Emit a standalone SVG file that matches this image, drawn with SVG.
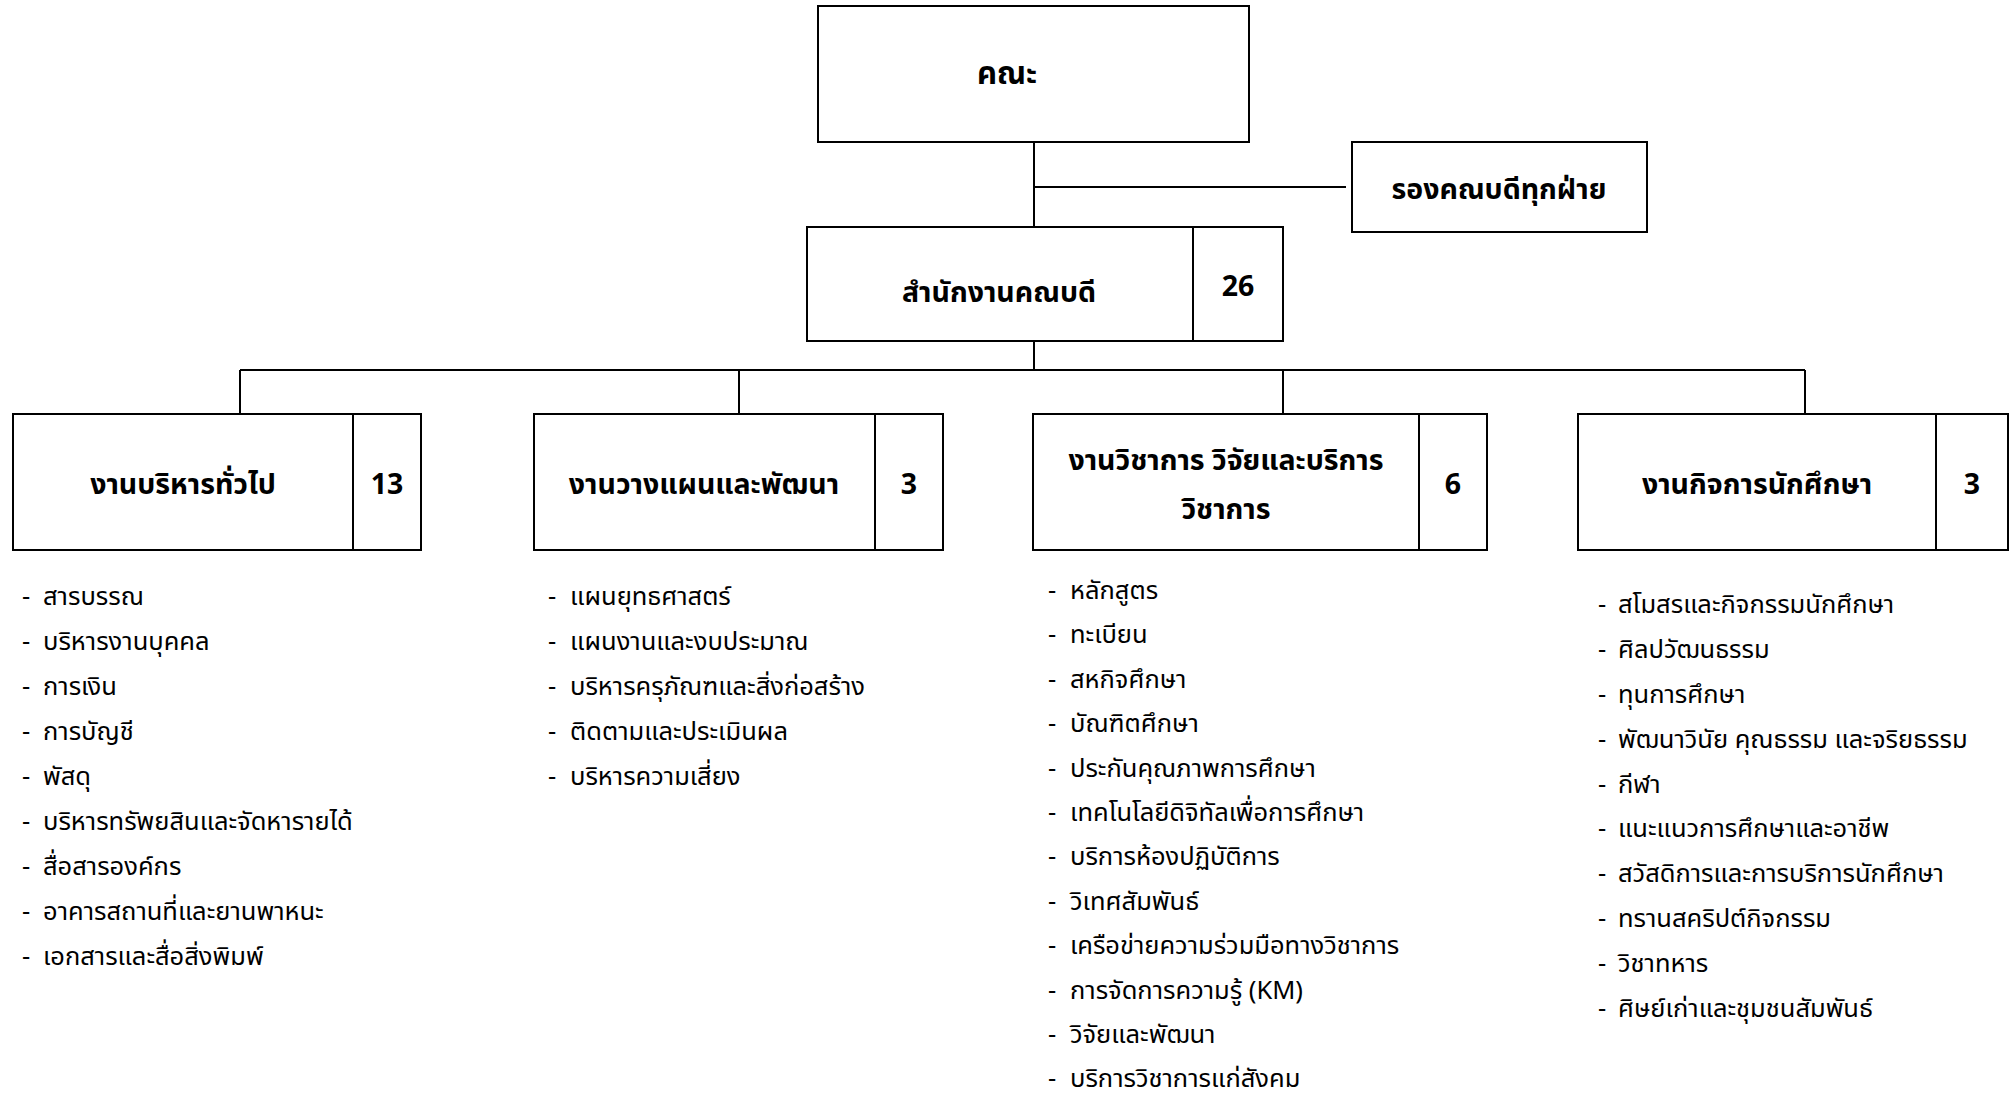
<svg xmlns="http://www.w3.org/2000/svg" width="2014" height="1094" viewBox="0 0 2014 1094">
<style>
.box{fill:#fff;stroke:#000;stroke-width:2}
.ln{stroke:#000;stroke-width:2;fill:none}
.t{font-family:"Noto Sans Thai","Leelawadee UI",Tahoma,"Noto Sans","DejaVu Sans",sans-serif;fill:#000}
.h{font-size:28.5px;font-weight:bold;text-anchor:middle}
.li{font-size:25.5px}
</style>
<rect width="2014" height="1094" fill="#fff"/>
<g id="connectors">
<path class="ln" d="M1034 142V227M1034 187H1346M1034 341V370M240 370H1805M240 370V414M739 370V414M1283 370V414M1805 370V414"/>
</g>
<g id="n-faculty">
<rect class="box" x="818" y="6" width="431" height="136"/>
<text class="t h" x="1007" y="84" style="font-size:31px">คณะ</text>
</g>
<g id="n-deputy">
<rect class="box" x="1352" y="142" width="295" height="90"/>
<text class="t h" x="1499" y="199">รองคณบดีทุกฝ่าย</text>
</g>
<g id="n-office">
<rect class="box" x="807" y="227" width="476" height="114"/>
<line class="ln" x1="1193" y1="227" x2="1193" y2="341"/>
<text class="t h" x="999" y="302">สำนักงานคณบดี</text>
<text class="t h" x="1238" y="296">26</text>
</g>
<g id="n-admin">
<rect class="box" x="13" y="414" width="408" height="136"/>
<line class="ln" x1="353" y1="414" x2="353" y2="550"/>
<text class="t h" x="183" y="494">งานบริหารทั่วไป</text>
<text class="t h" x="387" y="494">13</text>
</g>
<g id="n-plan">
<rect class="box" x="534" y="414" width="409" height="136"/>
<line class="ln" x1="875" y1="414" x2="875" y2="550"/>
<text class="t h" x="704" y="494">งานวางแผนและพัฒนา</text>
<text class="t h" x="909" y="494">3</text>
</g>
<g id="n-academic">
<rect class="box" x="1033" y="414" width="454" height="136"/>
<line class="ln" x1="1419" y1="414" x2="1419" y2="550"/>
<text class="t h" x="1226" y="470">งานวิชาการ วิจัยและบริการ</text>
<text class="t h" x="1226" y="519">วิชาการ</text>
<text class="t h" x="1453" y="494">6</text>
</g>
<g id="n-student">
<rect class="box" x="1578" y="414" width="430" height="136"/>
<line class="ln" x1="1936" y1="414" x2="1936" y2="550"/>
<text class="t h" x="1757" y="494">งานกิจการนักศึกษา</text>
<text class="t h" x="1972" y="494">3</text>
</g>
<g id="list-admin" class="t li">
<text x="22" y="605">-</text><text x="43" y="605">สารบรรณ</text>
<text x="22" y="650">-</text><text x="43" y="650">บริหารงานบุคคล</text>
<text x="22" y="695">-</text><text x="43" y="695">การเงิน</text>
<text x="22" y="740">-</text><text x="43" y="740">การบัญชี</text>
<text x="22" y="785">-</text><text x="43" y="785">พัสดุ</text>
<text x="22" y="830">-</text><text x="43" y="830">บริหารทรัพยสินและจัดหารายได้</text>
<text x="22" y="875">-</text><text x="43" y="875">สื่อสารองค์กร</text>
<text x="22" y="920">-</text><text x="43" y="920">อาคารสถานที่และยานพาหนะ</text>
<text x="22" y="965">-</text><text x="43" y="965">เอกสารและสื่อสิ่งพิมพ์</text>
</g>
<g id="list-plan" class="t li">
<text x="548" y="605">-</text><text x="570" y="605">แผนยุทธศาสตร์</text>
<text x="548" y="650">-</text><text x="570" y="650">แผนงานและงบประมาณ</text>
<text x="548" y="695">-</text><text x="570" y="695">บริหารครุภัณฑและสิ่งก่อสร้าง</text>
<text x="548" y="740">-</text><text x="570" y="740">ติดตามและประเมินผล</text>
<text x="548" y="785">-</text><text x="570" y="785">บริหารความเสี่ยง</text>
</g>
<g id="list-academic" class="t li">
<text x="1048" y="599">-</text><text x="1070" y="599">หลักสูตร</text>
<text x="1048" y="643">-</text><text x="1070" y="643">ทะเบียน</text>
<text x="1048" y="688">-</text><text x="1070" y="688">สหกิจศึกษา</text>
<text x="1048" y="732">-</text><text x="1070" y="732">บัณฑิตศึกษา</text>
<text x="1048" y="777">-</text><text x="1070" y="777">ประกันคุณภาพการศึกษา</text>
<text x="1048" y="821">-</text><text x="1070" y="821">เทคโนโลยีดิจิทัลเพื่อการศึกษา</text>
<text x="1048" y="865">-</text><text x="1070" y="865">บริการห้องปฏิบัติการ</text>
<text x="1048" y="910">-</text><text x="1070" y="910">วิเทศสัมพันธ์</text>
<text x="1048" y="954">-</text><text x="1070" y="954">เครือข่ายความร่วมมือทางวิชาการ</text>
<text x="1048" y="999">-</text><text x="1070" y="999">การจัดการความรู้ (KM)</text>
<text x="1048" y="1043">-</text><text x="1070" y="1043">วิจัยและพัฒนา</text>
<text x="1048" y="1087">-</text><text x="1070" y="1087">บริการวิชาการแก่สังคม</text>
</g>
<g id="list-student" class="t li">
<text x="1598" y="613">-</text><text x="1618" y="613">สโมสรและกิจกรรมนักศึกษา</text>
<text x="1598" y="658">-</text><text x="1618" y="658">ศิลปวัฒนธรรม</text>
<text x="1598" y="703">-</text><text x="1618" y="703">ทุนการศึกษา</text>
<text x="1598" y="748">-</text><text x="1618" y="748">พัฒนาวินัย คุณธรรม และจริยธรรม</text>
<text x="1598" y="793">-</text><text x="1618" y="793">กีฬา</text>
<text x="1598" y="837">-</text><text x="1618" y="837">แนะแนวการศึกษาและอาชีพ</text>
<text x="1598" y="882">-</text><text x="1618" y="882">สวัสดิการและการบริการนักศึกษา</text>
<text x="1598" y="927">-</text><text x="1618" y="927">ทรานสคริปต์กิจกรรม</text>
<text x="1598" y="972">-</text><text x="1618" y="972">วิชาทหาร</text>
<text x="1598" y="1017">-</text><text x="1618" y="1017">ศิษย์เก่าและชุมชนสัมพันธ์</text>
</g>
</svg>
